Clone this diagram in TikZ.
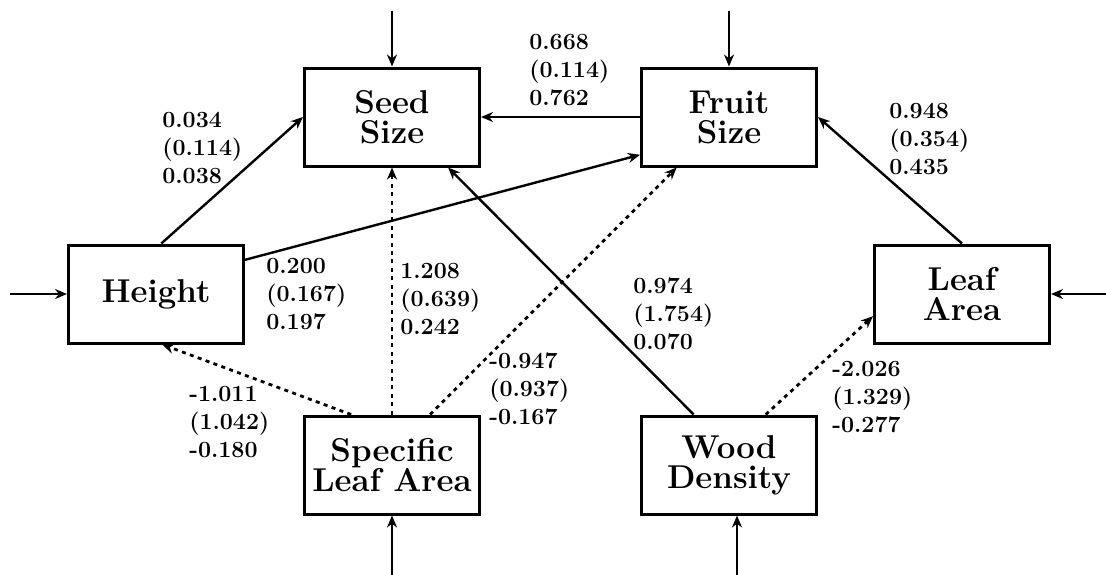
\documentclass[tikz,border=0pt]{standalone}
\usetikzlibrary{arrows.meta}
\begin{document}
\begin{tikzpicture}[x=0.5pt,y=-0.5pt,
  trait/.style={draw,line width=1.5pt,minimum width=87.5pt,minimum height=49pt,
    inner sep=0pt,align=center,font=\fontsize{16.5}{15}\selectfont\bfseries},%boxes of the traits
  coef/.style={anchor=west,inner sep=0pt,align=left,
    font=\fontsize{11.6}{14}\selectfont\bfseries},%estimate, (s.e.), standardised
  fleche/.style={line width=1.2pt,-{Stealth[length=6pt,width=5pt]}},
  pointille/.style={fleche,line width=1.4pt,dash pattern=on 2pt off 2.2pt}]%non significant paths
\useasboundingbox (0,0) rectangle (1106,574);

\node[trait] (seed) at (392,117) {Seed\\Size};
\node[trait] (fruit) at (729,117) {Fruit\\Size};
\node[trait] (hgt) at (156,294) {Height};
\node[trait] (leaf) at (962,294) {Leaf\\Area};
\node[trait] (sla) at (392,465) {Specific\\Leaf Area};
\node[trait] (wd) at (729,465) {Wood\\Density};

% error terms
\draw[fleche] (seed.north) ++(0,-56) -- (seed.north);
\draw[fleche] (fruit.north) ++(0,-56) -- (fruit.north);
\draw[fleche] (hgt.west) ++(-57,0) -- (hgt.west);
\draw[fleche] (leaf.east) ++(56,0) -- (leaf.east);
\draw[fleche] (sla.south) ++(0,60) -- (sla.south);
\draw[fleche] ([xshift=4pt]wd.south) ++(0,60) -- ([xshift=4pt]wd.south);

% paths
\draw[fleche] (hgt.84) -- (seed.west);
\draw[fleche] (fruit.west) -- (seed.east);
\draw[fleche] (hgt.21) -- (fruit.203);
\draw[fleche] (leaf.north) -- (fruit.east);
\draw[fleche] (wd.125) -- (seed.318);
\draw[pointille] (sla.north) -- (seed.south);
\draw[pointille] (sla.129) -- (hgt.277);
\draw[pointille] (sla.53) -- (fruit.224);
\draw[pointille] (wd.54) -- (leaf.194);

\node[coef] (c1) at (162,148) {0.034\\(0.114)\\0.038};
\node[coef] (c2) at (529,70) {0.668\\(0.114)\\0.762};
\node[coef] (c3) at (889,139) {0.948\\(0.354)\\0.435};
\node[coef] (c4) at (266,294) {0.200\\(0.167)\\0.197};
\node[coef] (c5) at (400,299) {1.208\\(0.639)\\0.242};
\node[coef] (c6) at (189,422) {-1.011\\(1.042)\\-0.180};
\node[coef] (c7) at (489,389) {-0.947\\(0.937)\\-0.167};
\node[coef] (c8) at (633,314) {0.974\\(1.754)\\0.070};
\node[coef] (c9) at (832,397) {-2.026\\(1.329)\\-0.277};

\end{tikzpicture}
\end{document}
